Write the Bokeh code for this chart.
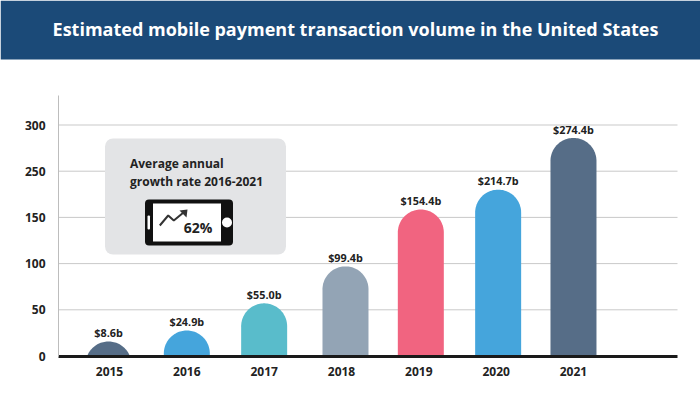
from bokeh.plotting import figure
from bokeh.models import BoxAnnotation, Label, Range1d, FixedTicker, LinearAxis
from bokeh.core.properties import value
from bokeh.embed import file_html
from bokeh.resources import INLINE
import numpy as np

years = [2015, 2016, 2017, 2018, 2019, 2020, 2021]
bar_labels = ["$8.6b", "$24.9b", "$55.0b", "$99.4b", "$154.4b", "$214.7b", "$274.4b"]
# bar heights read against the printed axis
bar_heights = [15.7, 27.6, 57, 97, 158.5, 180, 236]
bar_colors = ["#566d87", "#45a5dc", "#59bccb", "#93a4b5", "#f16480", "#45a5dc", "#566d87"]
y_ticks = [0, 50, 100, 150, 200, 250]
y_tick_labels = ["0", "50", "100", "150", "250", "300"]
title = "Estimated mobile payment transaction volume in the United States"
FONT = "Open Sans"

W, H = 700, 400
L, R, T, B = 58, 677, 95, 356
YPX = 0.924          # pixels per y unit
XPX = 77.33          # pixels per year
BASE = 355.5
# the bars sit slightly off their year labels in the reference (pixels)
BAR_NUDGE = [-1, 0, 0, 4, 2, 2, 0]

def X(px):
    return 2015 + (px - 109) / XPX

def Y(py):
    return (BASE - py) / YPX

p = figure(width=W, height=H, output_backend="svg", toolbar_location=None,
           x_range=Range1d(X(0), X(W)), y_range=Range1d(Y(H), Y(0)),
           x_axis_location=None, y_axis_location=None,
           min_border=0,
           outline_line_color=None, background_fill_color="white", border_fill_color="white")
p.xgrid.visible = False
p.ygrid.visible = False

xaxis = LinearAxis(fixed_location=0, bounds=(X(L), X(R)), ticker=FixedTicker(ticks=years))
xaxis.major_tick_line_color = None
xaxis.minor_tick_line_color = None
xaxis.axis_line_color = "#1a1a1a"
xaxis.axis_line_width = 3
xaxis.major_label_text_font = FONT
xaxis.major_label_text_font_size = "12px"
xaxis.major_label_text_font_style = "bold"
xaxis.major_label_text_color = "#222222"
xaxis.major_label_standoff = 5
p.add_layout(xaxis, "below")

yaxis = LinearAxis(fixed_location=X(L), bounds=(0, Y(T)), ticker=FixedTicker(ticks=y_ticks))
yaxis.major_label_overrides = {t: s for t, s in zip(y_ticks, y_tick_labels)}
yaxis.major_tick_line_color = None
yaxis.minor_tick_line_color = None
yaxis.axis_line_color = "#bdbdbd"
yaxis.axis_line_width = 1
yaxis.major_label_text_font = FONT
yaxis.major_label_text_font_size = "12px"
yaxis.major_label_text_font_style = "bold"
yaxis.major_label_text_color = "#222222"
yaxis.major_label_text_align = "left"
yaxis.major_label_standoff = 7
p.add_layout(yaxis, "left")

# gridlines stop short of the right edge, as in the reference
p.segment([X(L)] * 5, y_ticks[1:], [X(R)] * 5, y_ticks[1:], line_color="#c9c9c9", line_width=1, level="underlay")

# rounded-top bars
rx, ry = 23 / XPX, 23 / YPX
centres = [yr + n / XPX for yr, n in zip(years, BAR_NUDGE)]
xs, ys = [], []
for cx, h in zip(centres, bar_heights):
    theta = np.linspace(np.pi, 0, 60)
    px = cx + rx * np.cos(theta)
    py = (h - ry) + ry * np.sin(theta)
    keep = py >= 0
    px, py = px[keep], py[keep]
    xs.append(np.concatenate([[px[0]], px, [px[-1]]]))
    ys.append(np.concatenate([[0], py, [0]]))
p.patches(xs, ys, fill_color=bar_colors, line_color=None)

p.text(centres, [h + 1.5 for h in bar_heights], text=bar_labels, text_align="center", text_baseline="bottom",
       text_font=value(FONT), text_font_size="10.8px", text_font_style="bold", text_color="#222222")

def box(x0, x1, y0, y1, color, radius=0):
    p.add_layout(BoxAnnotation(left=X(x0), right=X(x1), top=Y(y0), bottom=Y(y1), fill_color=color, fill_alpha=1,
                               line_color=None, border_radius=radius, level="annotation"))

def text(x, y, s, size, color="#222222", style="bold", align="left"):
    p.add_layout(Label(x=X(x), y=Y(y), text=s, text_font=FONT, text_font_size=size, text_font_style=style,
                       text_color=color, text_align=align, text_baseline="middle"))

# header band
box(0, W, 0, 59, "#1b4a78")
text(355, 28.5, title, "18px", color="white", align="center")

# inset
box(104.5, 285.5, 138, 254, "#e3e4e6", 8)
text(129.5, 163, "Average annual", "12px")
text(129.5, 181, "growth rate 2016-2021", "12px")
box(144.5, 232.5, 199, 245, "#111111", 4)
box(152.5, 220.5, 203, 241, "#ffffff")
box(147, 149.5, 215, 229, "#ffffff", 1)
box(221.5, 231.5, 217, 227, "#ffffff", 5)
text(197.5, 227, "62%", "14px", align="center")

p.line([X(159.3), X(167.7), X(173.3), X(183.3)], [Y(225), Y(215), Y(220), Y(211.7)],
       line_color="#333333", line_width=2, level="overlay")
p.patch([X(187), X(179), X(186)], [Y(209), Y(210), Y(217)], fill_color="#333333", line_color=None, level="overlay")

open("out.html", "w").write(file_html(p, INLINE))
